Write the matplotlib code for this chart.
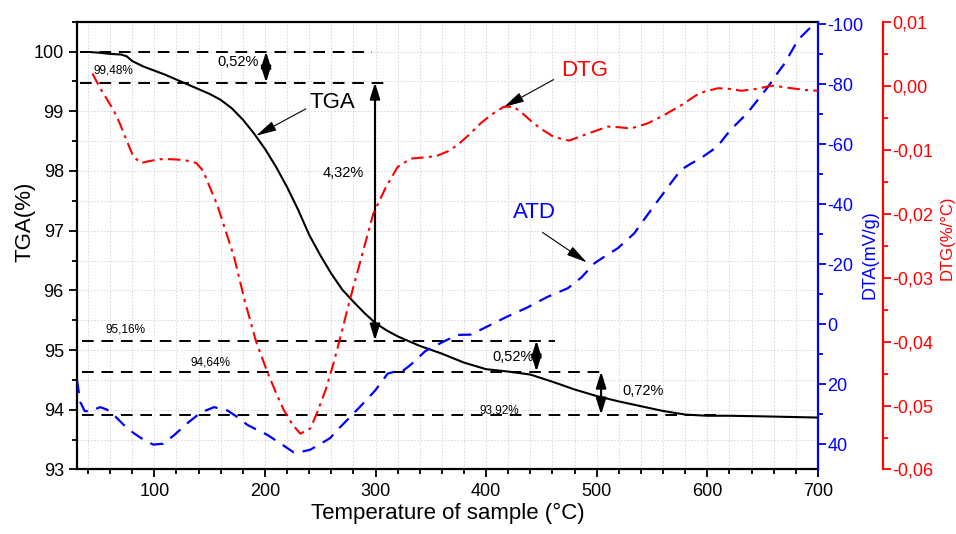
import matplotlib
matplotlib.use("Agg")
import matplotlib.pyplot as plt
from matplotlib.ticker import MultipleLocator, FuncFormatter

plt.rcParams["font.family"] = ["Liberation Sans", "DejaVu Sans"]
plt.rcParams["axes.unicode_minus"] = False

# TGA curve (%)
tga_t = [43, 50, 60, 70, 75, 80, 90, 100, 110, 120, 130, 140, 150, 160, 170, 180, 190,
         200, 210, 220, 230, 240, 250, 260, 270, 280, 290, 300, 310, 320, 340, 360, 380,
         400, 420, 440, 460, 480, 500, 520, 540, 560, 580, 600, 620, 650, 700]
tga = [99.99, 99.98, 99.96, 99.95, 99.92, 99.84, 99.75, 99.68, 99.61, 99.53, 99.45,
       99.37, 99.29, 99.19, 99.05, 98.86, 98.63, 98.37, 98.07, 97.73, 97.35, 96.93,
       96.59, 96.28, 96.01, 95.81, 95.62, 95.45, 95.33, 95.23, 95.07, 94.94, 94.79,
       94.68, 94.64, 94.59, 94.47, 94.34, 94.23, 94.14, 94.06, 93.98, 93.92, 93.90,
       93.90, 93.89, 93.87]

# DTG curve (%/°C)
dtg_t = [44, 51, 57, 63, 69, 75, 81, 88, 95, 105, 115, 125, 132, 138, 144, 150, 157,
         165, 172, 182, 192, 202, 210, 217, 225, 232, 241, 247, 255, 262, 269, 276, 287,
         298, 309, 320, 332, 345, 355, 365, 374, 385, 395, 405, 416, 425, 434, 443, 452,
         461, 475, 492, 510, 520, 531, 546, 560, 577, 590, 598, 610, 620, 631, 645, 658,
         668, 676, 690, 700]
dtg = [0.0019, -0.0004, -0.0021, -0.0038, -0.0060, -0.0086, -0.0111, -0.0121, -0.0118,
       -0.0115, -0.0115, -0.0116, -0.0118, -0.0121, -0.0133, -0.0158, -0.0187, -0.0230,
       -0.0267, -0.0338, -0.0400, -0.0447, -0.0480, -0.0507, -0.0530, -0.0544, -0.0536,
       -0.0512, -0.0475, -0.0434, -0.0388, -0.0340, -0.0270, -0.0200, -0.0160, -0.0127,
       -0.0114, -0.0112, -0.0110, -0.0103, -0.0093, -0.0076, -0.0059, -0.0045, -0.0033,
       -0.0033, -0.0045, -0.0059, -0.0070, -0.0080, -0.0086, -0.0075, -0.0064, -0.0065,
       -0.0067, -0.0059, -0.0047, -0.0030, -0.0015, -0.0009, -0.0004, -0.0005, -0.0008,
       -0.0005, 0.0000, -0.0002, -0.0004, -0.0007, -0.0008]

# DTA curve (mV/g)
dta_t = [30, 33, 37, 42, 51, 57, 63, 72, 81, 90, 99, 108, 118, 130, 142, 154, 166, 175,
         184, 193, 202, 214, 226, 234, 241, 250, 259, 265, 277, 290, 300, 311, 316, 323,
         332, 345, 359, 374, 386, 395, 407, 419, 437, 455, 474, 486, 498, 509, 519, 534,
         546, 558, 567, 576, 585, 594, 609, 621, 636, 645, 655, 662, 670, 682, 692, 700]
dta = [18.6, 26.0, 29.0, 29.1, 27.7, 28.5, 30.2, 33.5, 36.3, 38.5, 40.2, 39.9, 37.0,
       33.0, 29.5, 27.7, 28.8, 31.0, 33.6, 35.3, 36.9, 39.8, 42.8, 42.5, 41.9, 40.0,
       38.0, 35.5, 31.0, 26.0, 22.0, 16.5, 16.0, 16.1, 13.5, 9.0, 6.3, 3.6, 3.5, 1.9,
       -0.3, -2.5, -5.5, -9.0, -12.0, -15.5, -20.3, -23.0, -25.3, -30.3, -36.5, -42.5,
       -47.0, -51.4, -53.5, -55.3, -59.2, -64.8, -70.3, -74.5, -79.2, -83.0, -87.0,
       -94.8, -98.5, -101.0]

# mass-loss reference levels and steps
levels = [100.0, 99.48, 95.16, 94.64, 93.92]
level_spans = [(33, 297), (33, 312), (35, 462), (35, 507), (35, 610)]
level_labels = ["99,48%", "95,16%", "94,64%", "93,92%"]
level_label_pos = [(63, 99.68), (74, 95.35), (151, 94.80), (412, 93.99)]
steps = [(201, 100.0, 99.48), (299.5, 99.48, 95.16), (445.5, 95.16, 94.64), (504, 94.64, 93.92)]
step_labels = ["0,52%", "4,32%", "0,52%", "0,72%"]
step_label_pos = [(176, 99.82), (271, 97.97), (424, 94.88), (542, 94.31)]

BLUE = "#0000ff"
RED = "#ff0000"

fig = plt.figure(figsize=(9.56, 5.34), dpi=100)
ax = fig.add_axes([0.0805, 0.1208, 0.775, 0.8386])
ax2 = ax.twinx()
ax3 = ax.twinx()

ax.set_xlim(30, 700)
ax.set_ylim(93, 100.5)
ax2.set_ylim(48.5, -100.9)
ax3.set_ylim(-0.06, 0.01)

ax.xaxis.set_major_locator(MultipleLocator(100))
ax.xaxis.set_minor_locator(MultipleLocator(20))
ax.yaxis.set_major_locator(MultipleLocator(1))
ax.yaxis.set_minor_locator(MultipleLocator(0.5))
ax.grid(True, which="both", color="#d4d4d4", linestyle=(0, (2, 2)), linewidth=0.6)
ax.set_axisbelow(True)

ax2.yaxis.set_major_locator(MultipleLocator(20))
ax2.yaxis.set_minor_locator(MultipleLocator(10))
ax3.yaxis.set_major_locator(MultipleLocator(0.01))
ax3.yaxis.set_minor_locator(MultipleLocator(0.005))
ax3.yaxis.set_major_formatter(FuncFormatter(
    lambda v, p: f"{round(v, 4) + 0.0:.2f}".replace(".", ",")))

for a in (ax, ax2, ax3):
    for s in a.spines.values():
        s.set_linewidth(1.6)
ax.spines["right"].set_visible(False)
for a in (ax2, ax3):
    a.spines["left"].set_visible(False)
    a.spines["top"].set_visible(False)
    a.spines["bottom"].set_visible(False)
ax2.spines["right"].set_color(BLUE)
ax3.spines["right"].set_color(RED)
ax3.spines["right"].set_position(("outward", 46.8))

ax.tick_params(which="both", direction="out", width=1.3, labelsize=13)
ax.tick_params(which="major", length=6)
ax.tick_params(which="minor", length=3.5)
ax.tick_params(axis="x", pad=4)
ax2.tick_params(which="both", direction="out", width=1.3, colors=BLUE, labelsize=13, pad=1)
ax2.tick_params(which="major", length=6)
ax2.tick_params(which="minor", length=3.5)
ax3.tick_params(which="both", direction="out", width=1.3, colors=RED, labelsize=13, pad=1)
ax3.tick_params(which="major", length=6)
ax3.tick_params(which="minor", length=3.5)

ax.plot(tga_t, tga, color="black", linewidth=1.5, zorder=5)
ax2.plot(dta_t, dta, color=BLUE, linewidth=1.6, linestyle=(0, (6, 4)))
ax3.plot(dtg_t, dtg, color=RED, linewidth=1.5, linestyle=(0, (6, 2.5, 1.5, 2.5)))

for lv, (x0, x1) in zip(levels, level_spans):
    ax.plot([x0, x1], [lv, lv], color="black", linewidth=1.4,
            linestyle=(0, (6, 4)), zorder=6)
for txt, (tx, ty) in zip(level_labels, level_label_pos):
    ax.text(tx, ty, txt, fontsize=8.5, ha="center", va="center", zorder=7)

for (sx, y0, y1), txt, (tx, ty) in zip(steps, step_labels, step_label_pos):
    ax.annotate("", xy=(sx, y1), xytext=(sx, y0), zorder=8,
                arrowprops=dict(arrowstyle="<|-|>,head_length=0.7,head_width=0.22",
                                color="black", lw=1.5, mutation_scale=14,
                                shrinkA=0, shrinkB=0))
    ax.text(tx, ty, txt, fontsize=10.5, ha="center", va="center", zorder=9)

# curve name labels with pointers
name_labels = ["TGA", "DTG", "ATD"]
name_colors = ["black", RED, BLUE]
name_pos = [(261, 99.15), (489, 99.68), (444, 97.31)]
ptr_tail = [(237, 99.04), (461, 99.53), (451, 96.97)]
ptr_head = [(192, 98.59), (416, 99.07), (491, 96.47)]
for txt, c, (tx, ty), tail, head in zip(name_labels, name_colors, name_pos, ptr_tail, ptr_head):
    ax.text(tx, ty, txt, fontsize=16, color=c, ha="center", va="center", zorder=9)
    ax.annotate("", xy=head, xytext=tail, zorder=9,
                arrowprops=dict(arrowstyle="-|>,head_length=0.9,head_width=0.22",
                                color="black", lw=0.8, mutation_scale=14,
                                shrinkA=0, shrinkB=0))

ax.set_xlabel("Temperature of sample (°C)", fontsize=16, labelpad=2)
ax.set_ylabel("TGA(%)", fontsize=16)
ax.yaxis.set_label_coords(-0.070, 0.553)
ax.yaxis.label.set_va("center")
ax2.set_ylabel("DTA(mV/g)", fontsize=13, color=BLUE)
ax2.yaxis.set_label_coords(1.070, 0.479)
ax2.yaxis.label.set_va("center")
ax3.set_ylabel("DTG(%/°C)", fontsize=12, color=RED)
ax3.yaxis.set_label_coords(1.174, 0.517)
ax3.yaxis.label.set_va("center")

fig.savefig("out.png", dpi=100)
